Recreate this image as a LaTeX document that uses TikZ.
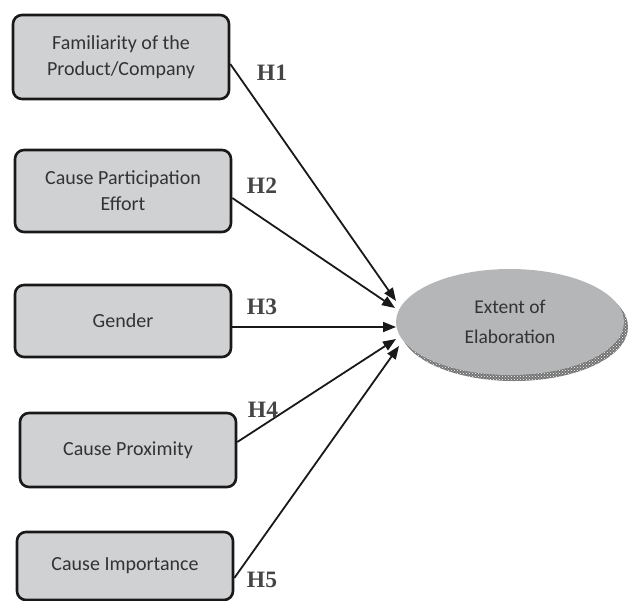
\documentclass[tikz,border=0pt]{standalone}
\usepackage{fontspec}
\setmainfont{Liberation Serif}
\newfontfamily\boxfont{Carlito}
\usetikzlibrary{shapes.geometric,arrows.meta,patterns}
\definecolor{boxfill}{HTML}{D0D1D3}
\definecolor{ovalfill}{HTML}{B5B6B8}
\definecolor{txtgray}{HTML}{333333}
\definecolor{hgray}{HTML}{454545}
\tikzset{
  factor/.style={draw=black!90, line width=2.6pt, fill=boxfill, rounded corners=9pt,
    align=center, font=\boxfont\fontsize{20}{26}\selectfont, text=txtgray,
    minimum width=216pt, inner sep=0pt},
  hyp/.style={font=\bfseries\fontsize{23.5}{23.5}\selectfont, text=hgray},
  link/.style={line width=1.8pt, black!90, -{Triangle[length=13pt,width=10pt]}}
}
\begin{document}
\begin{tikzpicture}[x=1pt,y=-1pt]
\useasboundingbox (0,0) rectangle (628,600);
% outcome ellipse with its stippled shadow
\fill[black!55] (514,327) ellipse (114pt and 54pt);
\fill[pattern=crosshatch dots, pattern color=white] (514,327) ellipse (114pt and 54pt);
\node[ellipse, fill=ovalfill, minimum width=228pt, minimum height=106pt, inner sep=0pt,
  align=center, font=\boxfont\fontsize{19.5}{30}\selectfont, text=txtgray] (ee) at (510,322)
  {Extent of\\Elaboration};
% antecedent boxes
\node[factor, minimum height=84pt] (b1) at (121,57) {Familiarity of the\\Product/Company};
\node[factor, minimum height=82pt] (b2) at (123,191) {Cause Participation\\Effort};
\node[factor, minimum height=72pt] (b3) at (123,321) {Gender};
\node[factor, minimum height=74pt] (b4) at (128,450) {Cause Proximity};
\node[factor, minimum height=68pt] (b5) at (125,566) {Cause Importance};
% arrow tips at the ellipse rim
\coordinate (e1) at (396,301);
\coordinate (e2) at (395,308);
\coordinate (e3) at (396,327);
\coordinate (e4) at (396,339);
\coordinate (e5) at (399,346);
\draw[link] (b1.east |- 0,64) -- (e1);
\draw[link] (b2.east |- 0,198) -- (e2);
\draw[link] (b3.east |- 0,327) -- (e3);
\draw[link] (b4.east |- 0,442) -- (e4);
\draw[link] (b5.east |- 0,578) -- (e5);
% hypothesis labels
\node[hyp] (h1) at (272,73) {H1};
\node[hyp] (h2) at (262,186) {H2};
\node[hyp] (h3) at (262,307) {H3};
\node[hyp] (h4) at (263,410) {H4};
\node[hyp] (h5) at (262,580) {H5};
\end{tikzpicture}
\end{document}
